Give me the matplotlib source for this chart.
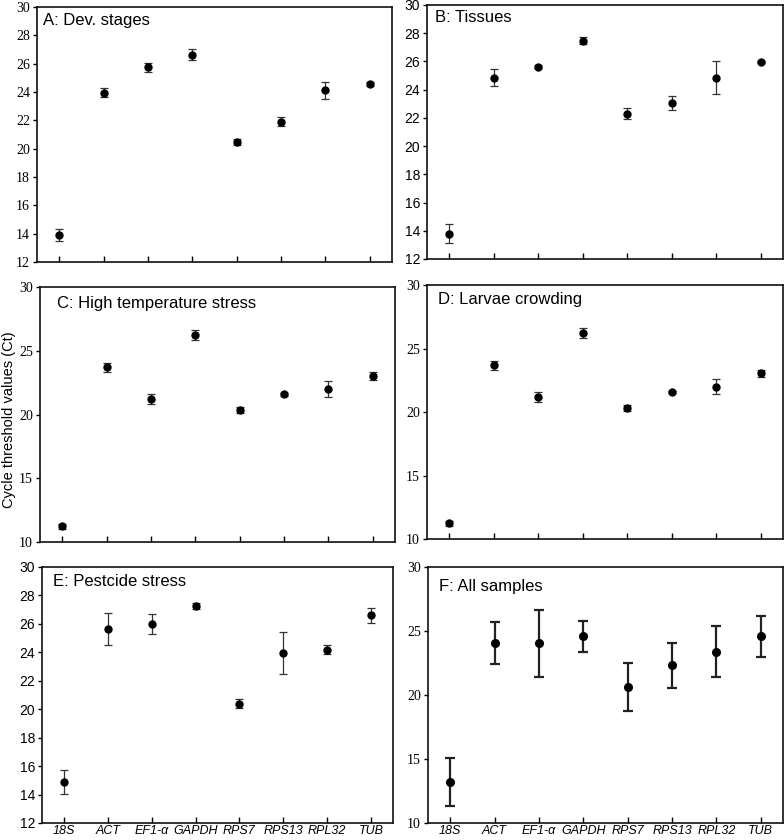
import matplotlib
matplotlib.use("Agg")
import matplotlib.pyplot as plt

genes = ["18S", "ACT", "EF1-\u03b1", "GAPDH", "RPS7", "RPS13", "RPL32", "TUB"]

dev_mean = [13.93, 23.95, 25.76, 26.64, 20.47, 21.91, 24.14, 24.59]
dev_err = [0.42, 0.33, 0.32, 0.41, 0.21, 0.33, 0.6, 0.15]

tis_mean = [13.8, 24.86, 25.63, 27.48, 22.29, 23.04, 24.86, 25.97]
tis_err = [0.67, 0.58, 0.1, 0.26, 0.39, 0.5, 1.17, 0.08]

heat_mean = [11.25, 23.69, 21.21, 26.22, 20.33, 21.58, 22.0, 23.04]
heat_err = [0.2, 0.35, 0.4, 0.37, 0.23, 0.1, 0.6, 0.3]

crowd_mean = [11.25, 23.69, 21.21, 26.22, 20.33, 21.58, 22.0, 23.04]
crowd_err = [0.2, 0.35, 0.4, 0.37, 0.23, 0.1, 0.6, 0.3]

pest_mean = [14.87, 25.65, 26.0, 27.25, 20.39, 23.98, 24.17, 26.59]
pest_err = [0.83, 1.1, 0.7, 0.19, 0.32, 1.47, 0.32, 0.56]

all_mean = [13.21, 24.05, 24.05, 24.6, 20.65, 22.32, 23.39, 24.6]
all_err = [1.88, 1.66, 2.61, 1.21, 1.88, 1.74, 1.98, 1.6]

titles = ["A: Dev. stages", "B: Tissues", "C: High temperature stress",
          "D: Larvae crowding", "E: Pestcide stress", "F: All samples"]

W, H = 784, 840
# left, right, top, bottom in pixels
boxes = [(37, 392, 7, 262), (427, 783, 5, 259),
         (40, 395, 287, 542), (427, 783, 285, 539),
         (42, 393, 567, 823), (428, 783, 567, 823)]

panels = [
    (dev_mean, dev_err, 12, 30, 2, "serif", (6, 14)),
    (tis_mean, tis_err, 12, 30, 2, "sans", (8, 12)),
    (heat_mean, heat_err, 10, 30, 5, "serif", (17, 16)),
    (crowd_mean, crowd_err, 10, 30, 5, "serif", (11, 14)),
    (pest_mean, pest_err, 12, 30, 2, "sans", (11, 15)),
    (all_mean, all_err, 10, 30, 5, "serif", (11, 20)),
]

serif = ["Liberation Serif", "DejaVu Serif"]
sans = ["Liberation Sans", "DejaVu Sans"]

fig = plt.figure(figsize=(W / 100, H / 100), dpi=100)
xs = list(range(1, len(genes) + 1))

for i, (mean, err, lo, hi, step, fam, tpos) in enumerate(panels):
    l, r, t, b = boxes[i]
    ax = fig.add_axes([l / W, 1 - b / H, (r - l) / W, (b - t) / H])
    if i == 5:
        ax.errorbar(xs, mean, yerr=err, fmt="o", color="black", ms=5.5,
                    ecolor="#222222", elinewidth=1.6, capsize=3.5, capthick=1.6)
    else:
        ax.errorbar(xs, mean, yerr=err, fmt="o", color="black", ms=5,
                    ecolor="#333333", elinewidth=0.9, capsize=3.2, capthick=0.9)
    ax.set_xlim(0.5, 8.5)
    ax.set_ylim(lo, hi)
    ax.set_yticks(range(lo, hi + 1, step))
    ax.set_xticks(xs)
    for s in ax.spines.values():
        s.set_linewidth(1.2)
        s.set_color("#111111")
    ax.tick_params(axis="x", direction="in", length=4, width=1.0, pad=1.5)
    ax.tick_params(axis="y", direction="out", length=3, width=1.0, pad=2)
    if i >= 4:
        ax.set_xticklabels(genes, fontstyle="italic", family=sans, fontsize=9)
    else:
        ax.set_xticklabels([])
    for lab in ax.get_yticklabels():
        lab.set_family(serif if fam == "serif" else sans)
        lab.set_fontsize(10)
    ax.text(tpos[0] / (r - l), 1 - tpos[1] / (b - t), titles[i],
            transform=ax.transAxes, family=sans, fontsize=12,
            ha="left", va="center")

fig.text(9 / W, 1 - 420 / H, "Cycle threshold values (Ct)", rotation=90,
         family=sans, fontsize=10.5, ha="center", va="center")

fig.savefig("out.png", dpi=100)
